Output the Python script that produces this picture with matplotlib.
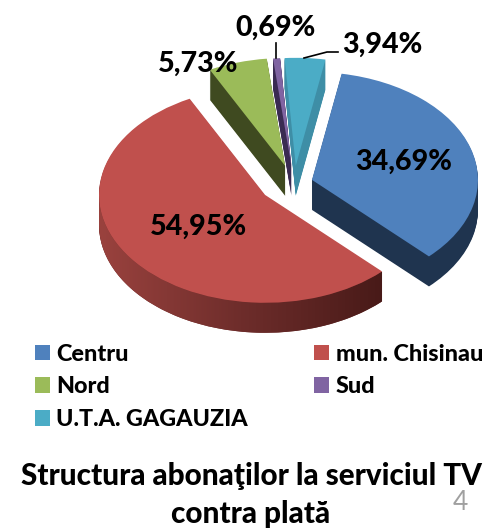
import matplotlib
matplotlib.use('Agg')
import matplotlib.pyplot as plt
import numpy as np
from matplotlib.colors import LinearSegmentedColormap
from matplotlib.patches import PathPatch
from matplotlib.path import Path

regions = ['Centru', 'mun. Chisinau', 'Nord', 'Sud', 'U.T.A. GAGAUZIA']
shares = [34.69, 54.95, 5.73, 0.69, 3.94]
top_colors = ['#4F81BD', '#C0504D', '#9BBB59', '#8064A2', '#4BACC6']
side_colors = ['#1F344F', '#6B2B2A', '#3F4A20', '#3A2B52', '#3E8EA6']
explode = [27.6, 25.4, 31, 30, 30]

W, H = 499, 528
squash = 0.65     # tilt of the pie
depth = 30        # wall height, px
cx, cy = 285.6, 185.2
nudge = 8.5       # small slices sit a bit right of where explode puts them

plt.rcParams['font.family'] = ['Lato', 'DejaVu Sans']

fig = plt.figure(figsize=(W / 100, H / 100), dpi=100)
ax = fig.add_axes([0, 0, 1, 1])


def fx(px):
    return px / W


def fy(py):
    return 1 - py / H


def draw_pie(colors, y, zorder):
    wedges, _ = ax.pie(shares, colors=colors, center=(cx, -y / squash), explode=explode,
                       radius=166, startangle=79.7, counterclock=False,
                       wedgeprops={'linewidth': 0, 'zorder': zorder})
    for w in wedges[2:]:
        w.set_center((w.center[0] + nudge, w.center[1]))
    return wedges


# walls: same pie stacked downwards
for d in range(depth, 0, -1):
    draw_pie(side_colors, cy + d, 1)

wedges = draw_pie(top_colors, cy, 5)

# red wall has a gradient
red_grad = LinearSegmentedColormap.from_list('red_wall', ['#9A423E', '#6E2D2B', '#481A18'])
red = wedges[1]
ang = np.radians(np.linspace(180, red.theta2 % 360, 80))
ax_x = red.center[0] + red.r * np.cos(ang)
ax_y = red.center[1] + red.r * np.sin(ang)
d_y = depth / squash
verts = list(zip(ax_x, ax_y)) + list(zip(ax_x[::-1], ax_y[::-1] - d_y)) + [(ax_x[0], ax_y[0])]
clip = PathPatch(Path(verts), transform=ax.transData, facecolor='none', edgecolor='none')
ax.add_patch(clip)
im = ax.imshow(np.linspace(0, 1, 256).reshape(1, -1), cmap=red_grad, aspect='auto', zorder=3,
               extent=(ax_x.min(), ax_x.max(), ax_y.min() - d_y, ax_y.max()))
im.set_clip_path(clip)

ax.set_aspect('auto')
ax.set_xlim(0, W)
ax.set_ylim(-H / squash, 0)
ax.axis('off')

# value labels
label_pos = [(404, 162), (198, 227), (198, 64), (275, 28), (382, 45)]
for v, (x, y) in zip(shares, label_pos):
    fig.text(fx(x), fy(y), f'{v:.2f}%'.replace('.', ','), fontsize=20.6, fontweight='black',
             color='black', ha='center', va='center', zorder=10)

# leader lines
ax.plot([276, 276], [-43 / squash, -58 / squash], color='black', lw=1.2, zorder=6)
ax.plot([304, 327, 338], [-58 / squash, -52 / squash, -52 / squash], color='black', lw=1.2, zorder=6)

order = [0, 2, 4, 1, 3]
fig.legend([wedges[i] for i in order], [regions[i] for i in order], ncol=2, frameon=False,
           loc='upper left', bbox_to_anchor=(fx(16), fy(325)),
           prop={'weight': 'black', 'size': 16.8},
           handlelength=0.65, handleheight=0.65, handletextpad=0.28,
           labelspacing=0.5, columnspacing=2.83, borderpad=0.3)

fig.text(fx(251), fy(476), 'Structura abonaţilor la serviciul TV', fontsize=21.3, fontweight='black',
         ha='center', va='center')
fig.text(fx(251), fy(514), 'contra plată', fontsize=21.3, fontweight='black', ha='center', va='center')
fig.text(fx(460), fy(503), '4', fontsize=19, color='#A0A0A0', ha='center', va='center')

fig.savefig('out.png', dpi=100)
